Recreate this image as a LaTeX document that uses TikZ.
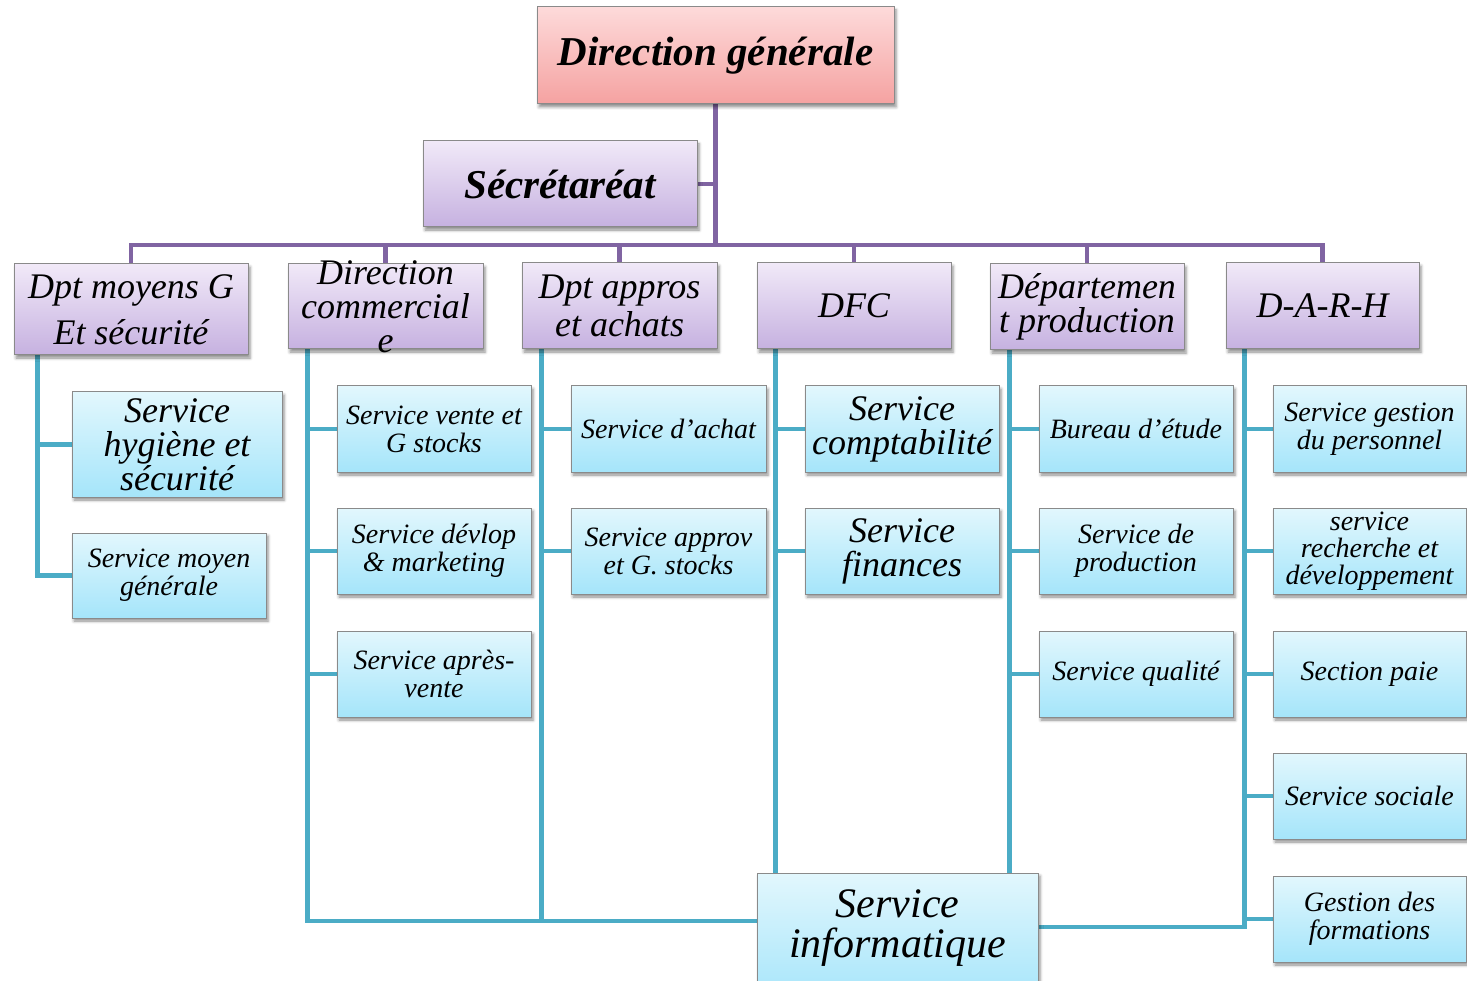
\documentclass[tikz,border=0pt]{standalone}
\usepackage{fontspec}
\setmainfont{Liberation Serif}
\usetikzlibrary{shadows.blur}

\definecolor{tealline}{HTML}{4BACC6}
\definecolor{purpline}{HTML}{8064A2}
\definecolor{boxedge}{HTML}{8A8A8A}
\definecolor{pinktop}{HTML}{FDDADA}
\definecolor{pinkbot}{HTML}{F5A2A1}
\definecolor{lilactop}{HTML}{F1E9F8}
\definecolor{lilacbot}{HTML}{C6B1E0}
\definecolor{skytop}{HTML}{E2F7FD}
\definecolor{skybot}{HTML}{A5E5FA}

\pgfdeclarelayer{background}
\pgfsetlayers{background,main}

\tikzset{
  orgframe/.style={draw=boxedge, line width=1pt, inner sep=0pt, rectangle,
    blur shadow={shadow xshift=2pt, shadow yshift=-3pt, shadow blur radius=3pt, shadow opacity=45}},
  headbox/.style={orgframe, top color=pinktop, bottom color=pinkbot},
  deptbox/.style={orgframe, top color=lilactop, bottom color=lilacbot},
  unitbox/.style={orgframe, top color=skytop, bottom color=skybot},
  bigtxt/.style={font=\fontsize{41}{40}\selectfont\bfseries\itshape, align=center, inner sep=0pt},
  depttxt/.style={font=\fontsize{36}{34}\selectfont\itshape, align=center, inner sep=0pt},
  midtxt/.style={font=\fontsize{36}{34}\selectfont\itshape, align=center, inner sep=0pt},
  smalltxt/.style={font=\fontsize{28}{28}\selectfont\itshape, align=center, inner sep=0pt},
  infotxt/.style={font=\fontsize{42}{40}\selectfont\itshape, align=center, inner sep=0pt},
  purp/.style={draw=purpline, line width=4.5pt},
  tealc/.style={draw=tealline, line width=4.5pt},
}

% \orgbox{name}{x1}{y1}{x2}{y2}{box style}{text style}{text}
\newcommand\orgbox[8]{%
  \node[#6, minimum width={(#4-#2)*1pt}, minimum height={(#5-#3)*1pt}]
    (#1) at ({(#2+#4)/2},{(#3+#5)/2}) {};
  \node[#7] (#1-t) at (#1.center) {#8};
}

\begin{document}
\begin{tikzpicture}[x=1pt,y=-1pt]
\useasboundingbox (0,0) rectangle (1467,981);

% top level
\orgbox{dg}{537}{7}{894}{104}{headbox}{bigtxt}{Direction générale}
\orgbox{sec}{423}{141}{697}{227}{deptbox}{bigtxt}{Sécrétaréat}

% departments
\orgbox{d1}{14}{264}{248}{355}{deptbox}{depttxt,font=\fontsize{36}{46}\selectfont\itshape}{Dpt moyens G\\Et sécurité}
\orgbox{d2}{288}{264}{483}{349}{deptbox}{depttxt}{Direction\\commercial\\e}
\orgbox{d3}{522}{263}{717}{349}{deptbox}{depttxt,font=\fontsize{36}{38}\selectfont\itshape}{Dpt appros\\et achats}
\orgbox{d4}{757}{263}{951}{349}{deptbox}{depttxt}{DFC}
\orgbox{d5}{990}{264}{1184}{350}{deptbox}{depttxt}{Départemen\\t production}
\orgbox{d6}{1226}{263}{1419}{349}{deptbox}{depttxt}{D-A-R-H}

% services
\orgbox{s11}{72}{392}{282}{497}{unitbox}{midtxt}{Service\\hygiène et\\sécurité}
\orgbox{s12}{72}{533}{266}{618}{unitbox}{smalltxt}{Service moyen\\générale}

\orgbox{s21}{337}{386}{531}{472}{unitbox}{smalltxt}{Service vente et\\G stocks}
\orgbox{s22}{337}{508}{531}{594}{unitbox}{smalltxt}{Service dévlop\\\& marketing}
\orgbox{s23}{337}{631}{531}{717}{unitbox}{smalltxt}{Service après-\\vente}

\orgbox{s31}{571}{386}{766}{472}{unitbox}{smalltxt}{Service d’achat}
\orgbox{s32}{571}{508}{766}{594}{unitbox}{smalltxt}{Service approv\\et G. stocks}

\orgbox{s41}{805}{386}{999}{472}{unitbox}{midtxt}{Service\\comptabilité}
\orgbox{s42}{805}{508}{999}{594}{unitbox}{midtxt}{Service\\finances}

\orgbox{s51}{1039}{386}{1233}{472}{unitbox}{smalltxt}{Bureau d’étude}
\orgbox{s52}{1039}{508}{1233}{594}{unitbox}{smalltxt}{Service de\\production}
\orgbox{s53}{1039}{631}{1233}{717}{unitbox}{smalltxt}{Service qualité}

\orgbox{s61}{1273}{386}{1466}{472}{unitbox}{smalltxt}{Service gestion\\du personnel}
\orgbox{s62}{1273}{508}{1466}{594}{unitbox}{smalltxt,font=\fontsize{28}{27}\selectfont\itshape}{service\\recherche et\\développement}
\orgbox{s63}{1273}{631}{1466}{717}{unitbox}{smalltxt}{Section paie}
\orgbox{s64}{1273}{753}{1466}{839}{unitbox}{smalltxt}{Service sociale}
\orgbox{s65}{1273}{876}{1466}{962}{unitbox}{smalltxt}{Gestion des\\formations}

% shared IT service, running off the lower edge
\node[unitbox, minimum width=281pt, minimum height=130pt] (inf) at (897.5,938) {};
\node[infotxt] (inf-t) at (897.5,928) {Service\\informatique};

\begin{pgfonlayer}{background}
  % purple hierarchy
  \coordinate (bus) at (716,245);
  \draw[purp] (dg.south) -- (dg.south |- bus);
  \draw[purp] (sec.east) -- (sec.east -| dg.south);
  \draw[purp] (d1.north) -- (d1.north |- bus) -- (d6.north |- bus) -- (d6.north);
  \foreach \d in {d2,d3,d4,d5} \draw[purp] (\d.north) -- (\d.north |- bus);

  % column spines
  \coordinate (c1) at ([xshift=24pt]d1.south west);
  \coordinate (c2) at ([xshift=20pt]d2.south west);
  \coordinate (c3) at ([xshift=20pt]d3.south west);
  \coordinate (c4) at ([xshift=19pt]d4.south west);
  \coordinate (c5) at ([xshift=20pt]d5.south west);
  \coordinate (c6) at ([xshift=19pt]d6.south west);
  \coordinate (low) at (0,921);
  \coordinate (lowr) at (0,927);
  \coordinate (end6) at (0,929);

  \draw[tealc] (c1) |- (s12.west);
  \draw[tealc] (s11.west) -- (s11.west -| c1);

  \draw[tealc] (c2) -- (c2 |- low) -- (c3 |- low);
  \foreach \s in {s21,s22,s23} \draw[tealc] (\s.west) -- (\s.west -| c2);

  \draw[tealc] (c3) -- (c3 |- low) -- (inf.west |- low);
  \foreach \s in {s31,s32} \draw[tealc] (\s.west) -- (\s.west -| c3);

  \draw[tealc] (c4) -- (c4 |- inf.north);
  \foreach \s in {s41,s42} \draw[tealc] (\s.west) -- (\s.west -| c4);

  \draw[tealc] (c5) -- (c5 |- inf.north);
  \foreach \s in {s51,s52,s53} \draw[tealc] (\s.west) -- (\s.west -| c5);

  \draw[tealc] (c6) -- (c6 |- end6);
  \draw[tealc] (inf.east |- lowr) -- (c6 |- lowr);
  \foreach \s in {s61,s62,s63,s64,s65} \draw[tealc] (\s.west) -- (\s.west -| c6);
\end{pgfonlayer}
\end{tikzpicture}
\end{document}
